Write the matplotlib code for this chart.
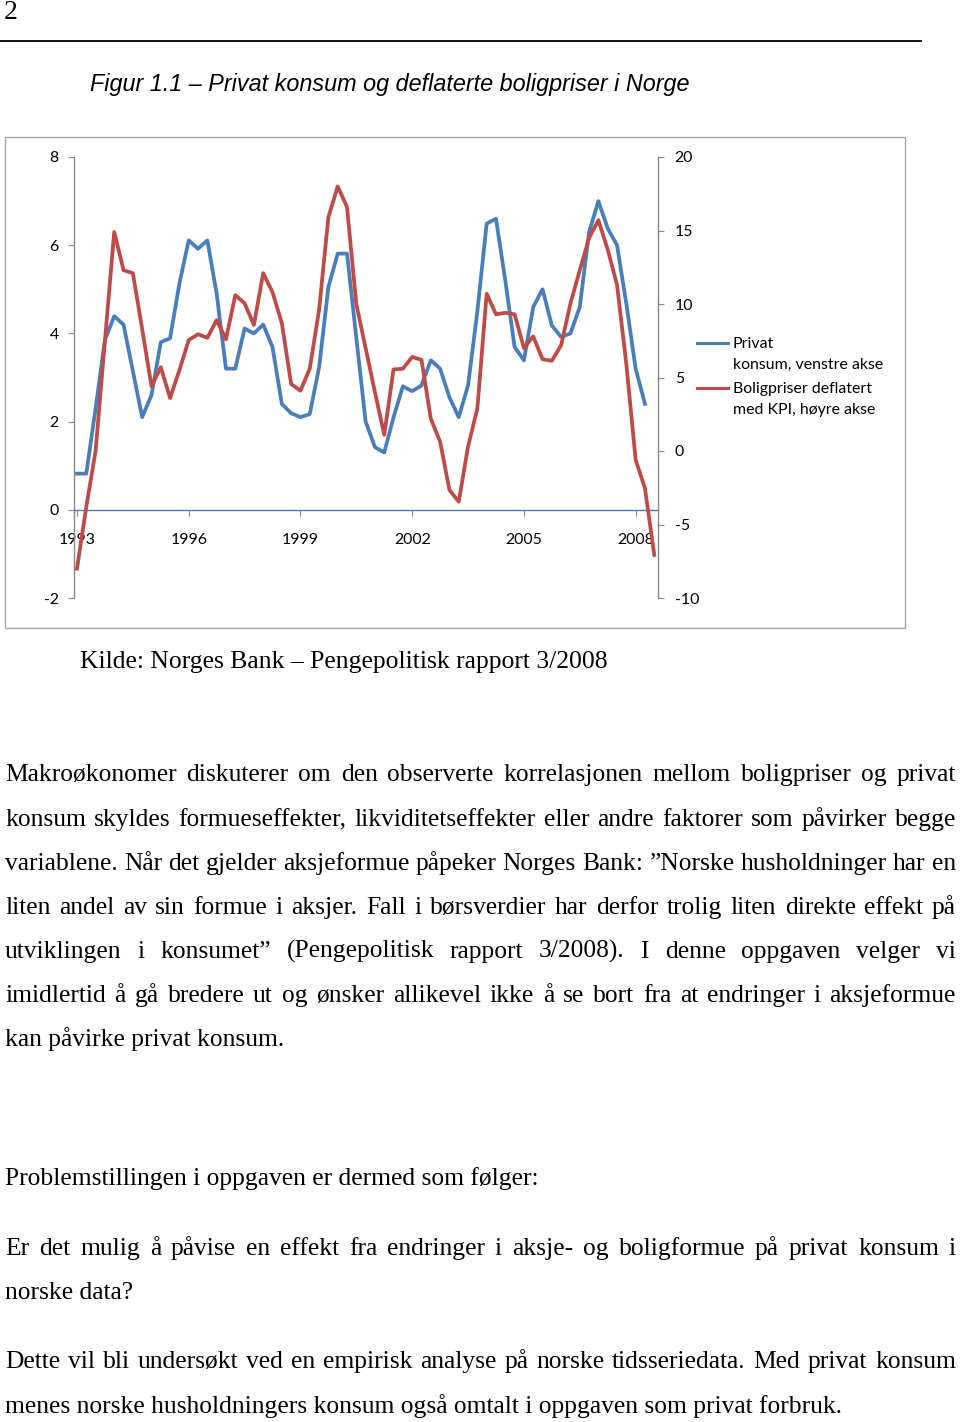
import matplotlib
matplotlib.use('Agg')
import matplotlib.pyplot as plt
from matplotlib.lines import Line2D
from matplotlib.patches import Rectangle

W, H = 960, 1422
DPI = 100

# ---------------- data ----------------
year_labels = ['1993', '1996', '1999', '2002', '2005', '2008']
year_tick_quarters = [0, 12, 24, 36, 48, 60]   # quarter index from 1993Q1

# Privat konsum, venstre akse (1993Q1 - 2008Q2)
privat_konsum = [0.82, 0.82, 2.3, 3.85, 4.39, 4.2, 3.15, 2.1, 2.6, 3.8, 3.89, 5.13,
                 6.11, 5.92, 6.11, 4.9, 3.2, 3.2, 4.11, 4.0, 4.2, 3.69, 2.4, 2.19,
                 2.1, 2.17, 3.23, 5.05, 5.81, 5.81, 3.9, 2.0, 1.42, 1.3, 2.1, 2.8,
                 2.69, 2.82, 3.39, 3.2, 2.55, 2.1, 2.82, 4.5, 6.49, 6.6, 5.2, 3.69,
                 3.39, 4.6, 5.0, 4.18, 3.92, 4.0, 4.6, 6.3, 7.0, 6.38, 6.0, 4.67,
                 3.2, 2.4]
# Boligpriser deflatert med KPI, hoyre akse (1993Q1 - 2008Q3)
boligpriser = [-8.0, -3.8, 0.0, 7.5, 14.9, 12.3, 12.1, 8.3, 4.4, 5.7, 3.6, 5.5,
               7.55, 7.94, 7.7, 8.9, 7.6, 10.6, 10.05, 8.57, 12.1, 10.8, 8.7, 4.56,
               4.1, 5.6, 9.6, 15.9, 18.0, 16.6, 10.0, 7.0, 4.0, 1.1, 5.55, 5.6,
               6.4, 6.2, 2.2, 0.63, -2.65, -3.45, 0.3, 2.9, 10.7, 9.3, 9.4, 9.3,
               7.0, 7.8, 6.24, 6.14, 7.2, 10.05, 12.3, 14.5, 15.7, 13.7, 11.3, 5.9,
               -0.6, -2.54, -7.07]
left_ticks = [-2, 0, 2, 4, 6, 8]
right_ticks = [-10, -5, 0, 5, 10, 15, 20]
legend_labels = [['Privat', 'konsum, venstre akse'],
                 ['Boligpriser deflatert', 'med KPI, høyre akse']]

page_number = '2'
caption = 'Figur 1.1 – Privat konsum og deflaterte boligpriser i Norge'
source = 'Kilde: Norges Bank – Pengepolitisk rapport 3/2008'
para1 = [
    'Makroøkonomer diskuterer om den observerte korrelasjonen mellom boligpriser og privat',
    'konsum skyldes formueseffekter, likviditetseffekter eller andre faktorer som påvirker begge',
    'variablene. Når det gjelder aksjeformue påpeker Norges Bank: ”Norske husholdninger har en',
    'liten andel av sin formue i aksjer. Fall i børsverdier har derfor trolig liten direkte effekt på',
    'utviklingen i konsumet” (Pengepolitisk rapport 3/2008). I denne oppgaven velger vi',
    'imidlertid å gå bredere ut og ønsker allikevel ikke å se bort fra at endringer i aksjeformue',
    'kan påvirke privat konsum.',
]
para2 = ['Problemstillingen i oppgaven er dermed som følger:']
para3 = ['Er det mulig å påvise en effekt fra endringer i aksje- og boligformue på privat konsum i',
         'norske data?']
para4 = ['Dette vil bli undersøkt ved en empirisk analyse på norske tidsseriedata. Med privat konsum',
         'menes norske husholdningers konsum også omtalt i oppgaven som privat forbruk.']

BLUE = '#4a7ebb'
RED = '#be4b48'
GRAY = '#868686'
SERIF = 'Liberation Serif'
SANS_CHART = 'Lato'

fig = plt.figure(figsize=(W / DPI, H / DPI), dpi=DPI)
fig.patch.set_facecolor('white')
fig.canvas.draw()
renderer = fig.canvas.get_renderer()


def fx(x):
    return x / W


def fy(y):
    return 1 - y / H


def measure(s, **kw):
    t = fig.text(0, 0, s, **kw)
    w = t.get_window_extent(renderer).width
    t.remove()
    return w


def fit_size(s, target, **kw):
    base = 20.0
    return base * target / measure(s, fontsize=base, **kw)


def justified(line, yb, x0, x1, size, family):
    words = line.split(' ')
    widths = [measure(w, fontsize=size, family=family) for w in words]
    gap = (x1 - x0 - sum(widths)) / (len(words) - 1)
    x = x0
    for w, wd in zip(words, widths):
        fig.text(fx(x), fy(yb), w, fontsize=size, family=family,
                 ha='left', va='baseline')
        x += wd + gap


# ---------------- page header ----------------
fig.text(fx(4), fy(19), page_number, fontsize=20, family=SERIF, ha='left', va='baseline')
fig.add_artist(Line2D([0, fx(921)], [fy(41), fy(41)], color='black', lw=1.3))
cap_size = fit_size(caption, 598, family='Liberation Sans', style='italic')
fig.text(fx(90), fy(91), caption, fontsize=cap_size, family='Liberation Sans',
         style='italic', ha='left', va='baseline')

# ---------------- chart ----------------
fig.add_artist(Rectangle((fx(5), fy(628)), fx(900), (628 - 137) / H,
                         fill=False, edgecolor='#a6a6a6', lw=1.0))

chart_size = fit_size(legend_labels[0][1], 151, family=SANS_CHART)

ax = fig.add_axes([fx(74), fy(598), 584 / W, 441 / H])
ax.set_facecolor('none')
q_blue = list(range(len(privat_konsum)))
q_red = list(range(len(boligpriser)))
ax.plot(q_blue, privat_konsum, color=BLUE, lw=2.7, solid_joinstyle='round')
ax.set_ylim(-2, 8)
ax.set_xlim(-0.32, 62.4)
ax.set_yticks(left_ticks)
ax.set_yticklabels([str(v) for v in left_ticks])
ax.set_xticks(year_tick_quarters)
ax.set_xticklabels(year_labels)
ax.spines['top'].set_visible(False)
ax.spines['right'].set_visible(False)
ax.spines['left'].set_color(GRAY)
ax.spines['left'].set_linewidth(1.0)
ax.spines['bottom'].set_position(('data', 0))
ax.spines['bottom'].set_color(BLUE)
ax.spines['bottom'].set_linewidth(1.0)
ax.tick_params(axis='y', direction='out', length=4, color=GRAY, pad=7,
               labelsize=chart_size)
ax.tick_params(axis='x', direction='out', length=4, color=GRAY, pad=13,
               labelsize=chart_size)
for lab in ax.get_xticklabels() + ax.get_yticklabels():
    lab.set_family(SANS_CHART)

ax2 = ax.twinx()
ax2.set_facecolor('none')
ax2.plot(q_red, boligpriser, color=RED, lw=2.7, solid_joinstyle='round')
ax2.set_ylim(-10, 20)
ax2.set_yticks(right_ticks)
ax2.set_yticklabels([str(v) for v in right_ticks])
for s in ['top', 'left', 'bottom']:
    ax2.spines[s].set_visible(False)
ax2.spines['right'].set_color(GRAY)
ax2.spines['right'].set_linewidth(1.0)
ax2.tick_params(axis='y', direction='out', length=4, color=GRAY, pad=8,
                labelsize=chart_size)
for lab in ax2.get_yticklabels():
    lab.set_family(SANS_CHART)

# legend
for (l1, l2), col, ly in zip(legend_labels, [BLUE, RED], [343, 388]):
    fig.add_artist(Line2D([fx(697), fx(728)], [fy(ly), fy(ly)], color=col, lw=2.2))
    fig.text(fx(733), fy(ly + 5), l1, fontsize=chart_size, family=SANS_CHART,
             ha='left', va='baseline')
    fig.text(fx(733), fy(ly + 26), l2, fontsize=chart_size, family=SANS_CHART,
             ha='left', va='baseline')

# source
src_size = fit_size(source, 527, family=SERIF)
fig.text(fx(80), fy(668), source, fontsize=src_size, family=SERIF, ha='left', va='baseline')

# ---------------- body text ----------------
body_size = fit_size(para4[1], 835, family=SERIF)
X0, X1 = 5, 956


def paragraph(lines, baselines, last_justified=False):
    for k, (ln, yb) in enumerate(zip(lines, baselines)):
        if k < len(lines) - 1 or last_justified:
            justified(ln, yb, X0, X1, body_size, SERIF)
        else:
            fig.text(fx(X0), fy(yb), ln, fontsize=body_size, family=SERIF,
                     ha='left', va='baseline')


paragraph(para1, [781, 826, 870, 914, 958, 1002, 1046])
paragraph(para2, [1185])
paragraph(para3, [1255, 1299])
paragraph(para4, [1368, 1413])

fig.savefig('out.png', dpi=DPI, facecolor='white')
